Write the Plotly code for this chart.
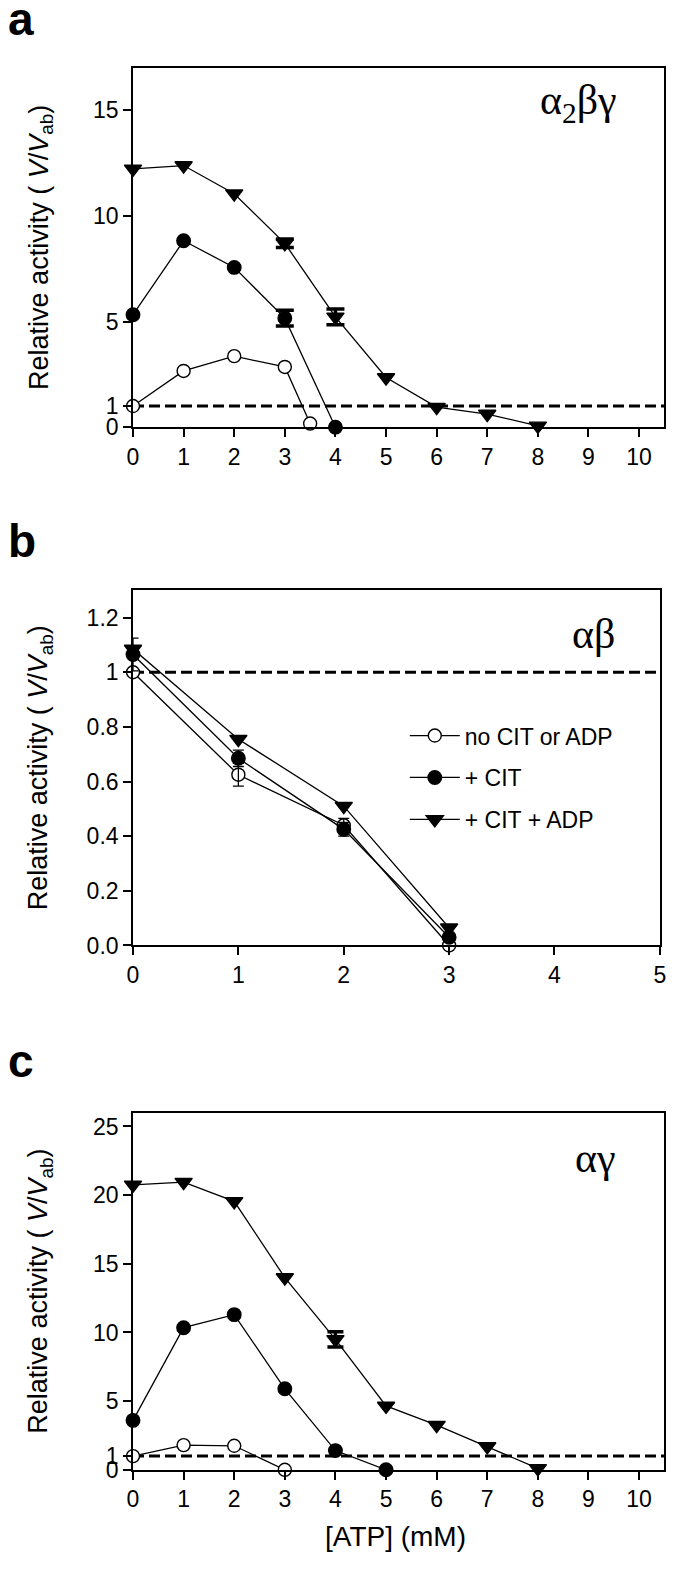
import plotly.graph_objects as go

# ---------------- data ----------------
series_names = ["no CIT or ADP", "+ CIT", "+ CIT + ADP"]

# panel a (alpha2 beta gamma)
a_x_none = [0, 1, 2, 3, 3.5]
a_y_none = [1.0, 2.66, 3.36, 2.85, 0.17]
a_x_cit = [0, 1, 2, 3, 4]
a_y_cit = [5.32, 8.82, 7.56, 5.16, 0.0]
a_e_cit = [None, None, None, 0.37, None]
a_x_adp = [0, 1, 2, 3, 4, 5, 6, 7, 8]
a_y_adp = [12.22, 12.38, 11.05, 8.7, 5.22, 2.35, 0.95, 0.62, 0.06]
a_e_adp = [None, None, None, 0.2, 0.37, None, None, None, None]

# panel b (alpha beta)
b_x = [0, 1, 2, 3]
b_y_none = [1.0, 0.625, 0.44, 0.0]
b_e_none = [None, 0.042, 0.025, None]
b_y_cit = [1.065, 0.685, 0.425, 0.03]
b_e_cit = [0.06, 0.03, 0.025, None]
b_y_adp = [1.085, 0.755, 0.51, 0.065]

# panel c (alpha gamma)
c_x_none = [0, 1, 2, 3]
c_y_none = [1.0, 1.8, 1.75, 0.0]
c_x_cit = [0, 1, 2, 3, 4, 5]
c_y_cit = [3.6, 10.35, 11.3, 5.9, 1.4, 0.0]
c_x_adp = [0, 1, 2, 3, 4, 5, 6, 7, 8]
c_y_adp = [20.75, 20.95, 19.55, 14.0, 9.5, 4.65, 3.25, 1.7, 0.1]
c_e_adp = [None, None, None, None, 0.55, None, None, None, None]

a_yticks = [0, 1, 5, 10, 15]
b_yticks = [0, 0.2, 0.4, 0.6, 0.8, 1, 1.2]
b_yticklabels = ["0.0", "0.2", "0.4", "0.6", "0.8", "1", "1.2"]
c_yticks = [0, 1, 5, 10, 15, 20, 25]
ac_xticks = list(range(0, 11))
b_xticks = list(range(0, 6))

panel_letters = ["a", "b", "c"]
panel_labels = ["α<sub>2</sub>βγ", "αβ", "αγ"]

# ---------------- figure ----------------
W, H = 675, 1580
FONT = "Liberation Sans, Arial, sans-serif"
SERIF = "Liberation Serif, Times New Roman, serif"
fig = go.Figure()


def px_x(p):
    return p / W


def px_y(p):
    return 1 - p / H


def add_series(xs, ys, err, name, style, xa, ya, show, ebar):
    symbol, fill, size = style
    fig.add_trace(go.Scatter(
        x=xs, y=ys, mode="lines+markers", name=name,
        legendgroup=name, showlegend=show,
        line=dict(color="black", width=1.3),
        marker=dict(symbol=symbol, size=size, color=fill,
                    line=dict(color="black", width=1.4)),
        cliponaxis=False, xaxis=xa, yaxis=ya))
    if err is not None:
        thick, w = ebar
        ex = [x for x, e in zip(xs, err) if e is not None]
        ey = [y for y, e in zip(ys, err) if e is not None]
        ee = [e for e in err if e is not None]
        fig.add_trace(go.Scatter(
            x=ex, y=ey, mode="markers", name=name, legendgroup=name,
            showlegend=False, hoverinfo="skip",
            marker=dict(size=1, opacity=0, color="black"),
            error_y=dict(type="data", array=ee, visible=True, color="black",
                         thickness=thick, width=w),
            cliponaxis=False, xaxis=xa, yaxis=ya))


st_none = ("circle", "white", 13)
st_cit = ("circle", "black", 13.5)
st_adp = ("triangle-down", "black", 15)
thick_bar = (3.5, 9)
thin_bar = (1.3, 5.5)

# panel a
add_series(a_x_none, a_y_none, None, series_names[0], st_none, "x", "y", False, thick_bar)
add_series(a_x_cit, a_y_cit, a_e_cit, series_names[1], st_cit, "x", "y", False, thick_bar)
add_series(a_x_adp, a_y_adp, a_e_adp, series_names[2], st_adp, "x", "y", False, thick_bar)
# panel b
add_series(b_x, b_y_none, b_e_none, series_names[0], st_none, "x2", "y2", True, thin_bar)
add_series(b_x, b_y_cit, b_e_cit, series_names[1], st_cit, "x2", "y2", True, thin_bar)
add_series(b_x, b_y_adp, None, series_names[2], st_adp, "x2", "y2", True, thin_bar)
# panel c
add_series(c_x_none, c_y_none, None, series_names[0], st_none, "x3", "y3", False, thick_bar)
add_series(c_x_cit, c_y_cit, None, series_names[1], st_cit, "x3", "y3", False, thick_bar)
add_series(c_x_adp, c_y_adp, c_e_adp, series_names[2], st_adp, "x3", "y3", False, (3.5, 8))

# geometry (pixels)
panels = [
    dict(l=129.3, r=670.3, t=68.5, b=430.7),
    dict(l=129.3, r=665.7, t=595.2, b=953.3),
    dict(l=129.3, r=670.3, t=1122, b=1482),
]

axis_common = dict(showline=True, mirror=True, linecolor="black", linewidth=1.6,
                   ticks="outside", ticklen=8, tickwidth=1.6, tickcolor="black",
                   showgrid=False, zeroline=False,
                   tickfont=dict(family=FONT, size=23, color="black"))

xranges = [[0, 10.5], [0, 5], [0, 10.5]]
yranges = [[0, 17], [0, 1.3], [0, 26]]
xticks = [ac_xticks, b_xticks, ac_xticks]
yticks = [a_yticks, b_yticks, c_yticks]
yticktext = [[str(v) for v in a_yticks], b_yticklabels, [str(v) for v in c_yticks]]

layout = dict(width=W, height=H, margin=dict(l=0, r=0, t=0, b=0),
              paper_bgcolor="white", plot_bgcolor="white", autosize=False,
              font=dict(family=FONT, color="black"))
for i, p in enumerate(panels):
    sx = "" if i == 0 else str(i + 1)
    layout["xaxis" + sx] = dict(axis_common, domain=[px_x(p["l"]), px_x(p["r"])],
                                range=xranges[i], tickvals=xticks[i],
                                anchor="y" + sx)
    layout["yaxis" + sx] = dict(axis_common, domain=[px_y(p["b"]), px_y(p["t"])],
                                range=yranges[i], tickvals=yticks[i],
                                ticktext=yticktext[i], anchor="x" + sx)
fig.update_layout(**layout)

# dashed reference line at V/Vab = 1
for i in range(3):
    sx = "" if i == 0 else str(i + 1)
    fig.add_shape(type="line", xref="x" + sx + " domain", yref="y" + sx,
                  x0=0, x1=1, y0=1, y1=1, layer="below",
                  line=dict(color="black", width=3, dash="11px,5px"))

ann = []
letter_y = [19, 545, 1070]
label_pos = [(583, 104), (598, 639), (600, 1168)]
for i, p in enumerate(panels):
    ann.append(dict(text="<b>%s</b>" % panel_letters[i], x=px_x(0), y=px_y(letter_y[i]),
                    xref="paper", yref="paper", xanchor="left", yanchor="middle",
                    showarrow=False, font=dict(family=FONT, size=46, color="black")))
    ann.append(dict(text="Relative activity ( <i>V</i>/<i>V</i><sub>ab</sub>)",
                    x=px_x(35), y=px_y((p["t"] + p["b"]) / 2), textangle=-90,
                    xref="paper", yref="paper", xanchor="center", yanchor="middle",
                    showarrow=False, font=dict(family=FONT, size=27, color="black")))
    lx, ly = label_pos[i]
    ann.append(dict(text=panel_labels[i], x=px_x(lx), y=px_y(ly),
                    xref="paper", yref="paper", xanchor="center", yanchor="middle",
                    showarrow=False, font=dict(family=SERIF, size=42, color="black")))
ann.append(dict(text="[ATP] (mM)", x=px_x(397), y=px_y(1549), xref="paper", yref="paper",
                xanchor="center", yanchor="middle", showarrow=False,
                font=dict(family=FONT, size=28, color="black")))
fig.update_layout(annotations=ann)

fig.update_layout(legend=dict(x=px_x(406), y=px_y(720), xanchor="left", yanchor="top",
                              bgcolor="rgba(0,0,0,0)", borderwidth=0,
                              font=dict(family=FONT, size=23, color="black"),
                              tracegroupgap=9, itemwidth=50))

fig.write_html("out.html", config={"displayModeBar": False},
               post_script="document.body.style.margin='0px';document.body.style.padding='0px';")
